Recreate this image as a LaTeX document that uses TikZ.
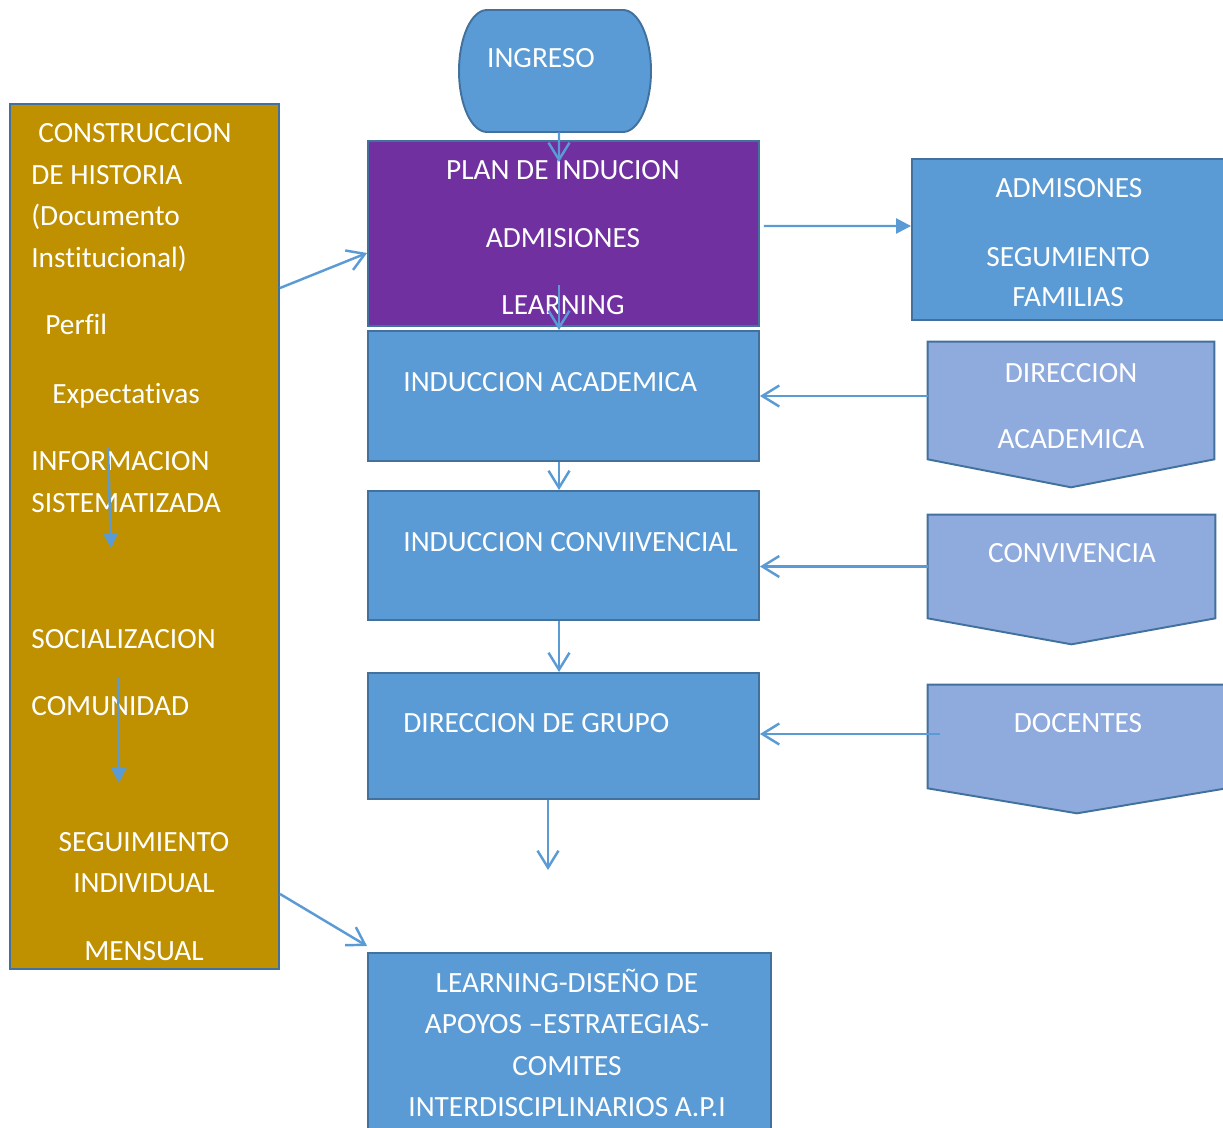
\documentclass[tikz,border=0pt]{standalone}
\usepackage{fontspec}
\setmainfont{Carlito}[Ligatures=CommonOff]
\usetikzlibrary{arrows.meta}

\definecolor{boxblue}{HTML}{5B9BD5}
\definecolor{edgeblue}{HTML}{41719C}
\definecolor{planpurple}{HTML}{7030A0}
\definecolor{softblue}{HTML}{8FAADC}
\definecolor{gold}{HTML}{BF9000}

\tikzset{
  box/.style={draw=edgeblue, line width=1.1pt, fill=boxblue, inner sep=0pt},
  txt/.style={text=white, font=\fontsize{16.7}{23}\selectfont, inner sep=0pt},
  link/.style={draw=boxblue, line width=1.4pt, -{Straight Barb[length=3.4mm,width=4.2mm]}},
  solidlink/.style={draw=boxblue, line width=1.4pt, -{Triangle[length=3mm,width=3mm]}},
}

\begin{document}
\begin{tikzpicture}[x=0.02cm,y=-0.02cm]
\useasboundingbox (0,0) rectangle (1223,1128);

% centre column
\node[minimum width=3.84cm, minimum height=2.44cm] (ingreso) at (555,71) {};
\draw[box] (487,10) -- (623,10) arc[start angle=90, end angle=-90, x radius=0.56cm, y radius=1.22cm]
  -- (487,132) arc[start angle=270, end angle=90, x radius=0.56cm, y radius=1.22cm] -- cycle;
\node[txt, anchor=base] (ingresotxt) at (541,68) {INGRESO};

\node[box, fill=planpurple, minimum width=7.82cm, minimum height=3.7cm] (plan) at (563.5,233.5) {};
\node[txt, anchor=base] (plan1) at (563,180) {PLAN DE INDUCION};
\node[txt, anchor=base] (plan2) at (563,248) {ADMISIONES};
\node[txt, anchor=base] (plan3) at (563,315) {LEARNING};

\node[box, minimum width=7.82cm, minimum height=2.6cm] (indacad) at (563.5,396) {};
\node[txt, anchor=base west] (indacadtxt) at (403,391) {INDUCCION ACADEMICA};

\node[box, minimum width=7.82cm, minimum height=2.58cm] (indconv) at (563.5,555.5) {};
\node[txt, anchor=base west] (indconvtxt) at (403,551) {INDUCCION CONVIIVENCIAL};

\node[box, minimum width=7.82cm, minimum height=2.52cm] (dirgrupo) at (563.5,736) {};
\node[txt, anchor=base west] (dirgrupotxt) at (403,732) {DIRECCION DE GRUPO};

\node[box, minimum width=8.06cm, minimum height=3.74cm] (learning) at (569.5,1046.5) {};
\foreach \py/\words [count=\i] in {992/LEARNING-DISEÑO DE, 1033/APOYOS –ESTRATEGIAS-, 1075/COMITES, 1116/INTERDISCIPLINARIOS A.P.I}
  \node[txt, anchor=base] (learn\i) at (567,\py) {\words};

% left column
\node[box, fill=gold, minimum width=5.38cm, minimum height=17.3cm] (historia) at (144.5,536.5) {};
\foreach \px/\py/\words [count=\i] in {38/143/CONSTRUCCION, 31/185/DE HISTORIA, 31/226/{(Documento}, 31/268/{Institucional)},
    45/335/Perfil, 52/403/Expectativas, 31/470/INFORMACION, 31/512/SISTEMATIZADA, 31/648/SOCIALIZACION, 31/715/COMUNIDAD}
  \node[txt, anchor=base west] (hist\i) at (\px,\py) {\words};
\foreach \py/\words [count=\i] in {851/SEGUIMIENTO, 892/INDIVIDUAL, 960/MENSUAL}
  \node[txt, anchor=base] (seg\i) at (144,\py) {\words};

% right column
\node[box, minimum width=6.56cm, minimum height=3.22cm] (admis) at (1076,239.5) {};
\node[txt, anchor=base] (admis1) at (1069,198) {ADMISONES};
\node[txt, anchor=base] (admis2) at (1068,267) {SEGUMIENTO};
\node[txt, anchor=base] (admis3) at (1068,307) {FAMILIAS};

\node[minimum width=5.72cm, minimum height=2.34cm, inner sep=0pt] (diracad) at (1071,400.5) {};
\draw[box, fill=softblue] (diracad.north west) -- (diracad.north east) -- (diracad.south east)
  -- ([yshift=-0.56cm]diracad.south) -- (diracad.south west) -- cycle;
\node[txt, anchor=base] (diracad1) at (1071,382) {DIRECCION};
\node[txt, anchor=base] (diracad2) at (1071,448) {ACADEMICA};

\node[minimum width=5.74cm, minimum height=2.06cm, inner sep=0pt] (conviv) at (1071.5,566.5) {};
\draw[box, fill=softblue] (conviv.north west) -- (conviv.north east) -- (conviv.south east)
  -- ([yshift=-0.52cm]conviv.south) -- (conviv.south west) -- cycle;
\node[txt, anchor=base] (convivtxt) at (1072,562) {CONVIVENCIA};

\node[minimum width=5.96cm, minimum height=2.06cm, inner sep=0pt] (docentes) at (1077,736.5) {};
\draw[box, fill=softblue] (docentes.north west) -- (docentes.north east) -- (docentes.south east)
  -- ([yshift=-0.5cm]docentes.south) -- (docentes.south west) -- cycle;
\node[txt, anchor=base] (docentestxt) at (1078,732) {DOCENTES};

% connectors
\draw[link] ([xshift=0.08cm]ingreso.south) -- ([xshift=-0.09cm,yshift=-0.44cm]plan.north);
\draw[link] ([xshift=-0.09cm,yshift=0.84cm]plan.south) -- ([xshift=-0.09cm]indacad.north);
\draw[link] ([xshift=-0.09cm]indacad.south) -- ([xshift=-0.09cm]indconv.north);
\draw[link] ([xshift=-0.09cm]indconv.south) -- ([xshift=-0.09cm]dirgrupo.north);
\coordinate (gap) at (548,870);
\draw[link] (dirgrupo.south -| gap) -- (gap);
\draw[solidlink] ([xshift=0.08cm,yshift=0.15cm]plan.east) -- ([yshift=0.27cm]admis.west);
\draw[link] (indacad.east -| diracad.west) -- (indacad.east);
\draw[link] (conviv.west) -- (conviv.west -| indconv.east);
\draw[link] ([xshift=0.24cm,yshift=0.05cm]docentes.west) -- ([yshift=0.05cm]docentes.west -| dirgrupo.east);
\draw[link] ([yshift=4.97cm]historia.east) -- ([yshift=-0.39cm]plan.west);
\draw[link] ([yshift=-7.15cm]historia.east) -- ([yshift=0.12cm]learning.north west);

\coordinate (infotop) at (108,447);
\coordinate (infoend) at (111,548);
\coordinate (comutop) at (118,678);
\coordinate (comuend) at (119,783);
\draw[solidlink] (infotop) -- (infoend);
\draw[solidlink] (comutop) -- (comuend);
\end{tikzpicture}
\end{document}
